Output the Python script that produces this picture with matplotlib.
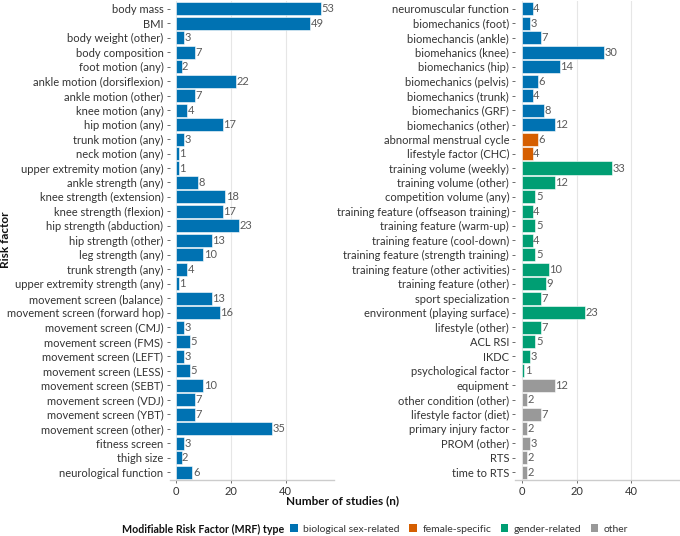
import matplotlib
matplotlib.use("Agg")
import matplotlib.pyplot as plt
from matplotlib.patches import Patch

plt.rcParams['font.family'] = ['Lato', 'DejaVu Sans']

# left panel
left_labels = [
    "body mass", "BMI", "body weight (other)", "body composition", "foot motion (any)",
    "ankle motion (dorsiflexion)", "ankle motion (other)", "knee motion (any)", "hip motion (any)",
    "trunk motion (any)", "neck motion (any)", "upper extremity motion (any)", "ankle strength (any)",
    "knee strength (extension)", "knee strength (flexion)", "hip strength (abduction)",
    "hip strength (other)", "leg strength (any)", "trunk strength (any)",
    "upper extremity strength (any)", "movement screen (balance)", "movement screen (forward hop)",
    "movement screen (CMJ)", "movement screen (FMS)", "movement screen (LEFT)",
    "movement screen (LESS)", "movement screen (SEBT)", "movement screen (VDJ)",
    "movement screen (YBT)", "movement screen (other)", "fitness screen", "thigh size",
    "neurological function",
]
left_values = [53, 49, 3, 7, 2, 22, 7, 4, 17, 3, 1, 1, 8, 18, 17, 23, 13, 10, 4, 1,
               13, 16, 3, 5, 3, 5, 10, 7, 7, 35, 3, 2, 6]
left_types = ["biological sex-related"] * 33

# right panel
right_labels = [
    "neuromuscular function", "biomechanics (foot)", "biomechancis (ankle)", "biomehanics (knee)",
    "biomechanics (hip)", "biomechanics (pelvis)", "biomechanics (trunk)", "biomechanics (GRF)",
    "biomechanics (other)", "abnormal menstrual cycle", "lifestyle factor (CHC)",
    "training volume (weekly)", "training volume (other)", "competition volume (any)",
    "training feature (offseason training)", "training feature (warm-up)",
    "training feature (cool-down)", "training feature (strength training)",
    "training feature (other activities)", "training feature (other)", "sport specialization",
    "environment (playing surface)", "lifestyle (other)", "ACL RSI", "IKDC",
    "psychological factor", "equipment", "other condition (other)", "lifestyle factor (diet)",
    "primary injury factor", "PROM (other)", "RTS", "time to RTS",
]
right_values = [4, 3, 7, 30, 14, 6, 4, 8, 12, 6, 4, 33, 12, 5, 4, 5, 4, 5, 10, 9, 7, 23,
                7, 5, 3, 1, 12, 2, 7, 2, 3, 2, 2]
right_types = (["biological sex-related"] * 9 + ["female-specific"] * 2
               + ["gender-related"] * 15 + ["other"] * 7)

type_names = ["biological sex-related", "female-specific", "gender-related", "other"]
type_colors = {"biological sex-related": "#0072B2", "female-specific": "#D55E00",
               "gender-related": "#009E73", "other": "#999999"}

fig = plt.figure(figsize=(6.8, 5.36), dpi=100)
ax_l = fig.add_axes([0.2496, 0.1045, 0.241, 0.894])
ax_r = fig.add_axes([0.758, 0.1045, 0.241, 0.894])


def draw_panel(ax, labels, values, types):
    ypos = list(range(len(labels)))
    colors = [type_colors[t] for t in types]
    ax.barh(ypos, values, height=0.9, color=colors, edgecolor="white", linewidth=0.4, zorder=2)
    for y, v in zip(ypos, values):
        ax.text(v + 0.15, y, str(v), va="center", ha="left", fontsize=8, color="#5a5a5a")
    ax.set_yticks(ypos)
    ax.set_yticklabels(labels)
    ax.set_ylim(len(labels) - 0.45, -0.55)
    ax.set_xlim(-2.3, 57.5)
    ax.set_xticks([0, 20, 40])
    ax.grid(axis="x", color="#e6e6e6", linewidth=0.8, zorder=0)
    for s in ["top", "right", "left"]:
        ax.spines[s].set_visible(False)
    ax.spines["bottom"].set_color("#cccccc")
    ax.spines["bottom"].set_linewidth(1.0)
    ax.tick_params(axis="y", length=2.5, width=0.6, color="#555555", labelsize=8,
                   labelcolor="#333333", pad=2)
    ax.tick_params(axis="x", length=2.5, width=0.6, color="#555555", labelsize=8,
                   labelcolor="#333333", pad=2)


draw_panel(ax_l, left_labels, left_values, left_types)
draw_panel(ax_r, right_labels, right_values, right_types)

fig.text(0.008, 0.552, "Risk factor", rotation=90, ha="center", va="center",
         fontsize=8.5, fontweight="bold", color="#111111")
fig.text(0.504, 0.065, "Number of studies (n)", ha="center", va="center",
         fontsize=8.5, fontweight="bold", color="#111111")

fig.text(0.179, 0.013, "Modifiable Risk Factor (MRF) type", ha="left", va="center",
         fontsize=7.7, fontweight="bold", color="#111111")
handles = [Patch(facecolor=type_colors[t], edgecolor="none") for t in type_names]
fig.legend(handles, type_names, loc="center left", bbox_to_anchor=(0.427, 0.013),
           ncol=4, frameon=False, fontsize=7.5, handlelength=0.75, handleheight=0.8,
           handletextpad=0.5, columnspacing=0.9, borderaxespad=0, borderpad=0,
           labelcolor="#333333")

fig.savefig("out.png", dpi=100)
